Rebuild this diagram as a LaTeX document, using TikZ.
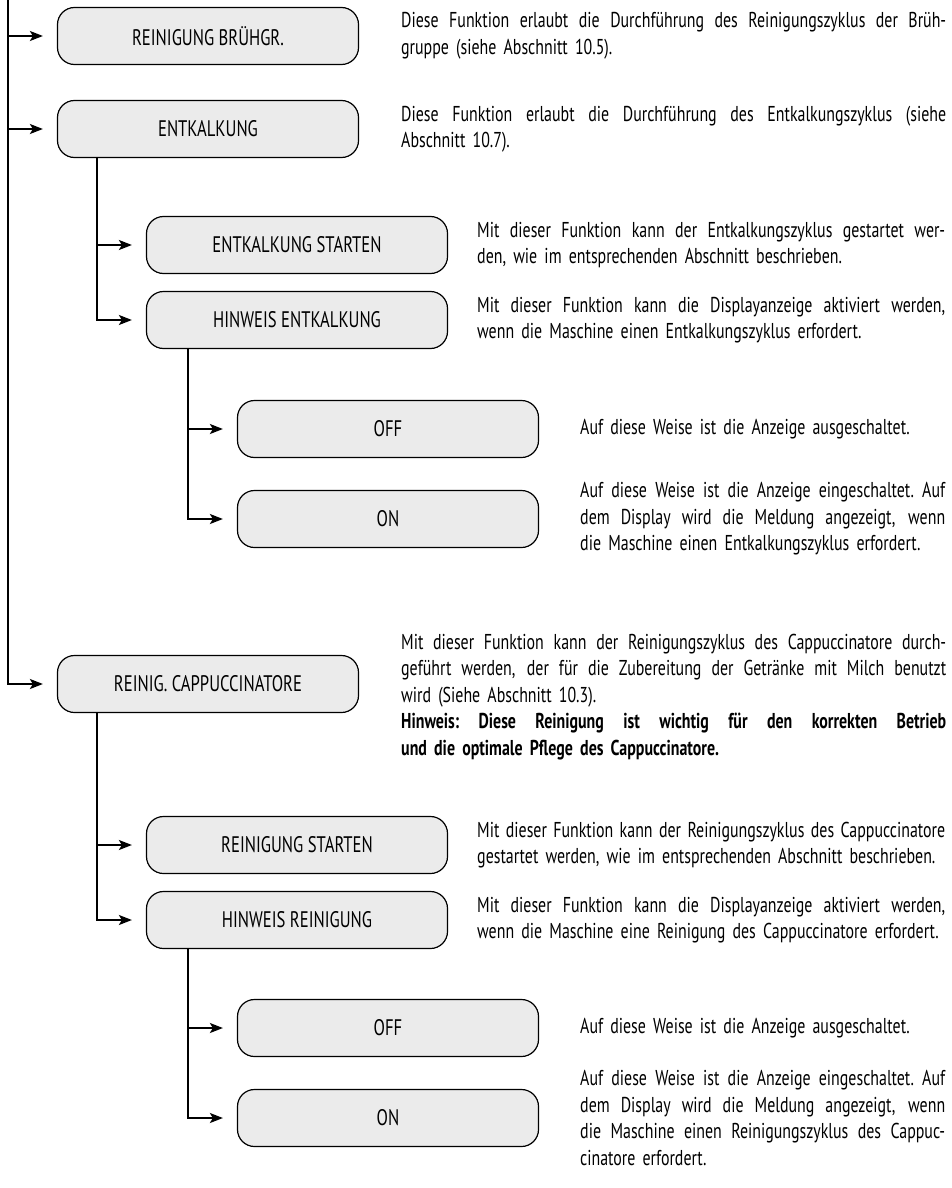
\documentclass[tikz,border=0pt]{standalone}
\usepackage{fontspec}
\setmainfont[FakeStretch=0.74]{PT Sans}
\usetikzlibrary{positioning,arrows.meta,calc}
\definecolor{boxgray}{HTML}{EBEBEB}

% one justified line of a description
\newcommand{\jline}[1]{\makebox[\hsize][s]{\spaceskip=\fontdimen2\font plus 1fil\xspaceskip=\fontdimen2\font plus 1fil\relax #1}}

\tikzset{
  menubox/.style={draw=black, fill=boxgray, line width=1.2pt, rounded corners=17pt, minimum width=301pt, minimum height=57pt, inner sep=0pt, font=\fontsize{22.5}{26}\selectfont},
  desc/.style={anchor=west, inner sep=0pt, align=left, font=\fontsize{21.5}{26.5}\selectfont},
  link/.style={line width=1.8pt, -{Stealth[length=13pt,width=10pt,inset=3pt]}, shorten >=14pt},
}

\begin{document}
\begin{tikzpicture}[x=1pt,y=-1pt]
\useasboundingbox (0,0) rectangle (951,1188);

% menu entries
\node[menubox] (br) at (208,36) {REINIGUNG BRÜHGR.};
\node[menubox] (entk) at (208,129) {ENTKALKUNG};
\node[menubox] (estart) at (297,245) {ENTKALKUNG STARTEN};
\node[menubox] (ehinw) at (297,320) {HINWEIS ENTKALKUNG};
\node[menubox] (eoff) at (388,429) {OFF};
\node[menubox] (eon) at (388,519) {ON};
\node[menubox] (capp) at (208,684) {REINIG. CAPPUCCINATORE};
\node[menubox] (rstart) at (297,845) {REINIGUNG STARTEN};
\node[menubox] (rhinw) at (297,920) {HINWEIS REINIGUNG};
\node[menubox] (roff) at (388,1028) {OFF};
\node[menubox] (ron) at (388,1118) {ON};

% descriptions
\node[desc, text width=545pt] (tbr) at (401,36) {\jline{Diese Funktion erlaubt die Durchführung des Reinigungszyklus der Brüh-}\\ gruppe (siehe Abschnitt 10.5).};
\node[desc, text width=545pt] (tentk) at (401,129) {\jline{Diese Funktion erlaubt die Durchführung des Entkalkungszyklus (siehe}\\ Abschnitt 10.7).};
\node[desc, text width=468pt] (testart) at (477,245) {\jline{Mit dieser Funktion kann der Entkalkungszyklus gestartet wer-}\\ den, wie im entsprechenden Abschnitt beschrieben.};
\node[desc, text width=468pt] (tehinw) at (477,320) {\jline{Mit dieser Funktion kann die Displayanzeige aktiviert werden,}\\ wenn die Maschine einen Entkalkungszyklus erfordert.};
\node[desc, text width=365pt] (teoff) at (580,429) {Auf diese Weise ist die Anzeige ausgeschaltet.};
\node[desc, text width=365pt] (teon) at (580,519) {\jline{Auf diese Weise ist die Anzeige eingeschaltet. Auf}\\ \jline{dem Display wird die Meldung angezeigt, wenn}\\ die Maschine einen Entkalkungszyklus erfordert.};
\node[desc, text width=545pt] (tcapp) at (401,697) {\jline{Mit dieser Funktion kann der Reinigungszyklus des Cappuccinatore durch-}\\ \jline{geführt werden, der für die Zubereitung der Getränke mit Milch benutzt}\\ wird (Siehe Abschnitt 10.3).\\ \jline{\bfseries Hinweis: Diese Reinigung ist wichtig für den korrekten Betrieb}\\ \textbf{und die optimale Pflege des Cappuccinatore.}};
\node[desc, text width=468pt] (trstart) at (477,845) {\jline{Mit dieser Funktion kann der Reinigungszyklus des Cappuccinatore}\\ \mbox{gestartet werden, wie im entsprechenden Abschnitt beschrieben.}};
\node[desc, text width=468pt] (trhinw) at (477,920) {\jline{Mit dieser Funktion kann die Displayanzeige aktiviert werden,}\\ \mbox{wenn die Maschine eine Reinigung des Cappuccinatore erfordert.}};
\node[desc, text width=365pt] (troff) at (580,1028) {Auf diese Weise ist die Anzeige ausgeschaltet.};
\node[desc, text width=365pt] (tron) at (580,1118) {\jline{Auf diese Weise ist die Anzeige eingeschaltet. Auf}\\ \jline{dem Display wird die Meldung angezeigt, wenn}\\ \jline{die Maschine einen Reinigungszyklus des Cappuc-}\\ cinatore erfordert.};

% tree lines
\coordinate (trunk) at (8,0);
\coordinate (esub) at ([xshift=40pt]entk.south west);
\coordinate (ehsub) at ([xshift=42pt]ehinw.south west);
\coordinate (csub) at ([xshift=40pt]capp.south west);
\coordinate (rhsub) at ([xshift=42pt]rhinw.south west);

\draw[link] (trunk) |- (capp.west);
\draw[link] (trunk |- br.west) -- (br.west);
\draw[link] (trunk |- entk.west) -- (entk.west);
\draw[link] (esub) |- (estart.west);
\draw[link] (esub) |- (ehinw.west);
\draw[link] (ehsub) |- (eoff.west);
\draw[link] (ehsub) |- (eon.west);
\draw[link] (csub) |- (rstart.west);
\draw[link] (csub) |- (rhinw.west);
\draw[link] (rhsub) |- (roff.west);
\draw[link] (rhsub) |- (ron.west);
\end{tikzpicture}
\end{document}
